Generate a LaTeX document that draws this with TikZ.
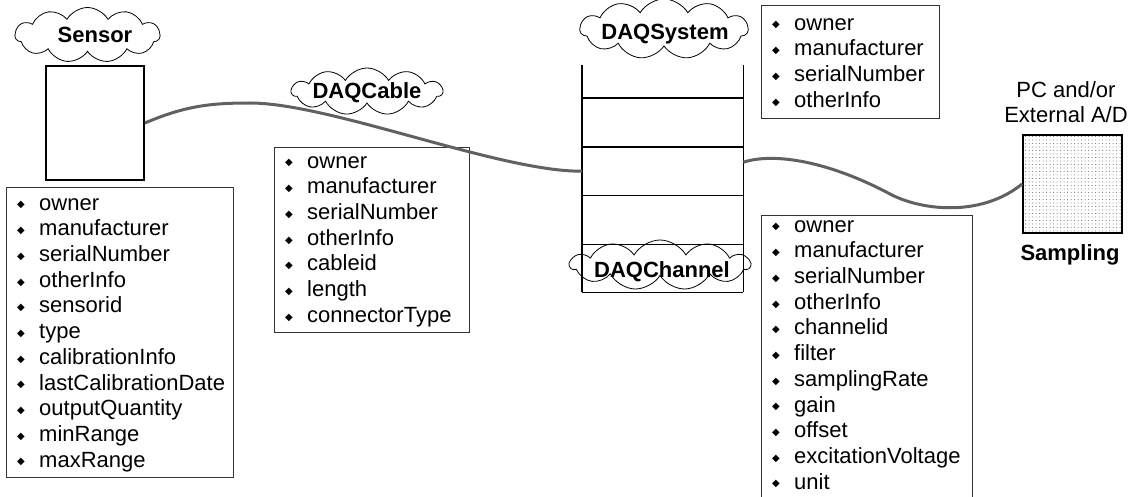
\documentclass[tikz,border=0pt]{standalone}
\usepackage{fontspec}
\setmainfont{Liberation Sans}
\newfontfamily\dejavu{DejaVu Sans}
\usetikzlibrary{shapes.symbols,patterns.meta}
\newcommand\bul{\makebox[22pt][l]{\raisebox{2.2pt}{\dejavu\fontsize{10}{10}\selectfont ◆}}}
\newcommand\itm[1]{\bul#1\strut}
\begin{document}
\begin{tikzpicture}[x=1pt,y=-1pt,
  lbl/.style={font=\fontsize{22}{25}\selectfont\bfseries, inner sep=0pt, anchor=base},
  cloudbox/.style={cloud, draw=black, line width=0.8pt, cloud puffs=11, cloud puff arc=120, cloud ignores aspect, inner sep=0pt},
  listbox/.style={draw=black!80, line width=1pt, anchor=north west, inner sep=0pt},
  listtext/.style={anchor=north west, inner sep=0pt, align=left, font=\fontsize{22}{25.7}\selectfont},
  cable/.style={draw=black!62, line width=3pt},
  stackline/.style={line width=1.8pt, black},
  cell/.style={minimum width=161pt, inner sep=0pt, anchor=north west},
  solidbox/.style={draw=black, line width=1.8pt, inner sep=0pt},
]
\useasboundingbox (0,0) rectangle (1131,497);

% Sensor
\node[cloudbox, minimum width=145pt, minimum height=55pt] (sensorcloud) at (87.5,35) {};
\node[lbl] (sensorlabel) at (95,43) {Sensor};
\node[solidbox, minimum width=98pt, minimum height=114pt] (sensor) at (95,123) {};
\node[listbox, minimum width=227pt, minimum height=290pt] (sensorlist) at (6,187) {};
\node[listtext] (sensortext) at (17,192) {\itm{owner}\\\itm{manufacturer}\\\itm{serialNumber}\\\itm{otherInfo}\\\itm{sensorid}\\\itm{type}\\\itm{calibrationInfo}\\\itm{lastCalibrationDate}\\\itm{outputQuantity}\\\itm{minRange}\\\itm{maxRange}};

% DAQCable
\node[cloudbox, minimum width=151pt, minimum height=47pt] (cablecloud) at (367,91.5) {};
\node[lbl] (cablelabel) at (367,99) {DAQCable};
\node[listbox, minimum width=195pt, minimum height=185pt] (cablelist) at (274,147) {};
\node[listtext] (cabletext) at (285,150) {\itm{owner}\\\itm{manufacturer}\\\itm{serialNumber}\\\itm{otherInfo}\\\itm{cableid}\\\itm{length}\\\itm{connectorType}};

% DAQSystem stack
\node[cell, minimum height=33pt] (c1) at (582,65) {};
\node[cell, minimum height=49pt] (c2) at (582,98) {};
\node[cell, minimum height=48pt] (c3) at (582,147) {};
\node[cell, minimum height=49pt] (c4) at (582,195) {};
\node[cell, minimum height=48pt] (c5) at (582,244) {};
\draw[stackline] (c1.north west) -- (c5.south west) (c1.north east) -- (c5.south east);
\draw[stackline] (c1.south west) -- (c1.south east) (c2.south west) -- (c2.south east)
  (c3.south west) -- (c3.south east) (c4.south west) -- (c4.south east) (c5.south west) -- (c5.south east);
\node[cloudbox, minimum width=168pt, minimum height=60pt] (syscloud) at (664,29) {};
\node[lbl] (syslabel) at (665,39.5) {DAQSystem};
\node[cloudbox, minimum width=180pt, minimum height=50pt] (chancloud) at (660,265) {};
\node[lbl] (chanlabel) at (662,277) {DAQChannel};

\node[listbox, minimum width=178pt, minimum height=113pt] (syslist) at (761,5) {};
\node[listtext] (systext) at (772,12) {\itm{owner}\\\itm{manufacturer}\\\itm{serialNumber}\\\itm{otherInfo}};
\node[listbox, minimum width=211pt, minimum height=300pt] (chanlist) at (761,215) {};
\node[listtext] (chantext) at (772,214) {\itm{owner}\\\itm{manufacturer}\\\itm{serialNumber}\\\itm{otherInfo}\\\itm{channelid}\\\itm{filter}\\\itm{samplingRate}\\\itm{gain}\\\itm{offset}\\\itm{excitationVoltage}\\\itm{unit}};

% Sampling
\node[font=\fontsize{22}{25}\selectfont, align=center, inner sep=0pt, anchor=north] (pclabel) at (1066,79.5) {PC and/or\strut\\External A/D\strut};
\node[solidbox, minimum width=99pt, minimum height=98pt, pattern={Dots[distance=3.5pt, radius=0.5pt]}, pattern color=black!60] (sampling) at (1072.5,184) {};
\node[lbl] (samplinglabel) at (1070,260) {Sampling};

% cables
\draw[cable] (sensor.east) .. controls (185,106) and (210,103) .. (250,103) .. controls (330,103) and (500,172) .. (c3.west);
\draw[cable] ([yshift=9pt]c3.east) .. controls (775,152) and (830,162) .. (890,194) .. controls (920,210) and (980,218) .. (sampling.west);
\end{tikzpicture}
\end{document}
